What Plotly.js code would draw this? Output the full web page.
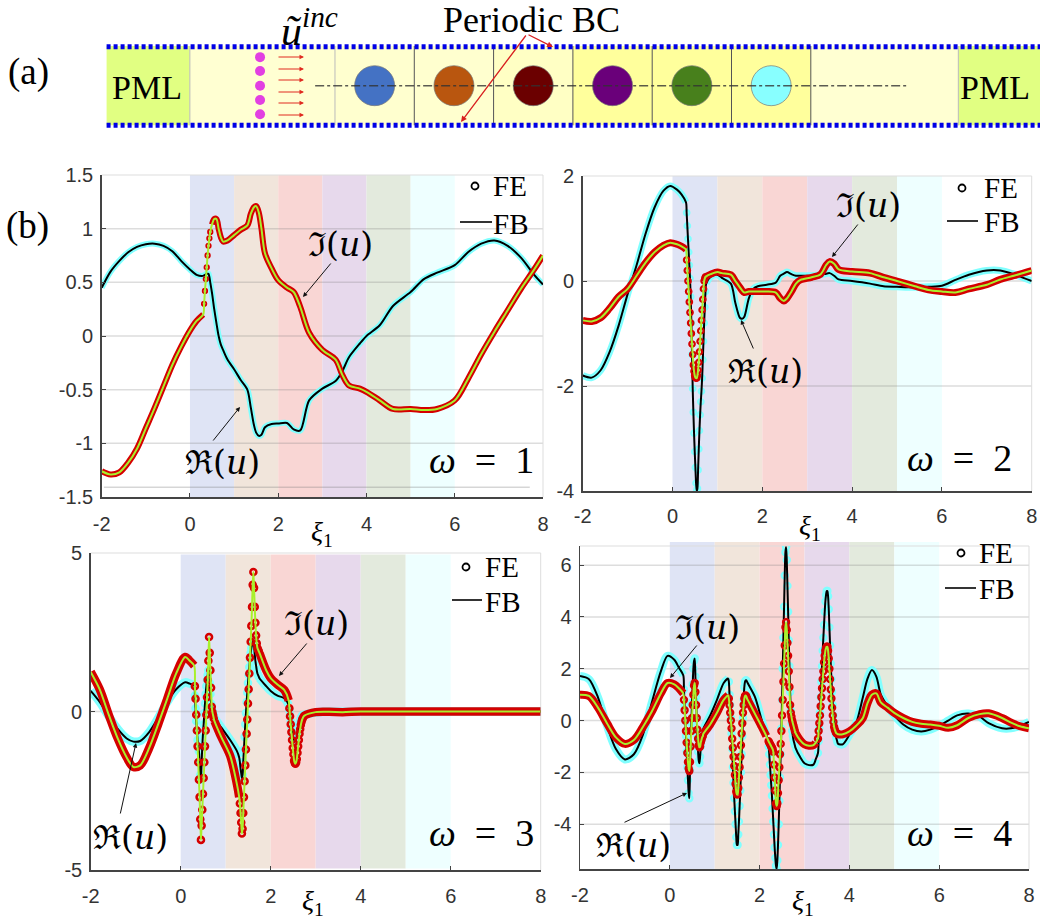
<!DOCTYPE html>
<html><head><meta charset="utf-8">
<script src="https://cdn.plot.ly/plotly-3.0.1.min.js"></script>
<style>html,body{margin:0;padding:0;background:#fff}</style></head>
<body><div id="chart" style="width:1040px;height:922px"></div>
<script>
// ---------- panel data (omega = 1 .. 4) ----------
const xi1=[-2,-1.8,-1.6,-1.4,-1.2,-1,-.8,-.6,-.4,-.2,0,.15,.3,
.32,.34,.36,.38,.4,.42,.44,.46,.5,.55,.6,.65,.7,.75,.85,1,1.15,1.3,1.38,1.45,1.5,1.56,1.62,1.7,1.85,2,2.2,2.35,2.5,2.7,3,3.3,3.45,3.6,3.85,4,4.3,4.6,5,5.3,5.6,6,6.3,6.6,6.9,7.2,7.5,7.8,8];
const re1=[.45,.6,.7,.78,.83,.855,.86,.84,.79,.7,.62,.57,.56,
.565,.57,.575,.58,.58,.58,.55,.5,.4,.25,.12,0,-.08,-.13,-.22,-.31,-.41,-.5,-.67,-.83,-.9,-.93,-.92,-.85,-.82,-.815,-.81,-.87,-.88,-.6,-.49,-.42,-.33,-.2,-.07,0,.1,.28,.41,.53,.59,.66,.78,.86,.89,.84,.73,.57,.48];
const im1=[-1.26,-1.29,-1.27,-1.18,-1.05,-.86,-.67,-.47,-.27,-.1,.05,.14,.2,
.3,.42,.53,.64,.75,.84,.91,.97,1.04,1.09,1.09,1,.92,.88,.89,.94,.99,1.03,1.14,1.2,1.21,1.15,1,.77,.63,.52,.45,.41,.27,.03,-.13,-.22,-.36,-.46,-.49,-.52,-.6,-.68,-.68,-.69,-.68,-.6,-.4,-.17,.04,.24,.44,.62,.75];

const xi2=[-2,-1.8,-1.6,-1.4,-1.2,-1,-.8,-.6,-.4,-.2,-.05,.1,.2,.3,
.315,.33,.345,.36,.375,.39,.405,.42,.435,.45,.465,.48,.495,.51,.525,.54,.555,.57,.585,.6,.615,.63,.645,.66,.675,.69,.705,.72,.735,.75,
.85,1,1.1,1.3,1.4,1.5,1.55,1.6,1.7,1.8,1.9,2.1,2.3,2.4,2.48,2.55,2.65,2.75,2.85,3.1,3.3,3.42,3.5,3.6,3.7,4,4.4,4.7,5,5.4,5.7,6,6.3,6.6,7,7.3,7.6,8];
const re2=[-1.8,-1.84,-1.7,-1.35,-.85,-.25,.3,.9,1.4,1.72,1.81,1.74,1.65,1.5,
1.3,1.05,.8,.55,.3,.05,-.3,-.8,-1.4,-2.05,-2.5,-2.9,-3.25,-3.55,-3.85,-4,-3.95,-3.6,-3.2,-2.85,-2.55,-2.3,-2.1,-1.85,-1.5,-1.15,-.8,-.5,-.2,-.05,
.08,.12,.06,-.05,-.42,-.7,-.72,-.68,-.33,-.15,-.1,-.07,-.03,.1,.14,.17,.13,.1,.1,.1,.12,.14,.15,.1,.03,0,-.05,-.1,-.11,-.12,-.11,-.09,.02,.12,.2,.2,.13,0];
const im2=[-.75,-.77,-.7,-.52,-.3,-.15,.1,.35,.55,.68,.73,.7,.66,.6,
.4,.2,0,-.2,-.4,-.6,-.8,-1,-1.2,-1.4,-1.6,-1.72,-1.8,-1.84,-1.85,-1.85,-1.8,-1.7,-1.55,-1.35,-1.15,-.95,-.75,-.55,-.35,-.15,0,.05,.08,.09,
.13,.17,.15,.12,0,-.12,-.18,-.22,-.2,-.2,-.2,-.2,-.22,-.33,-.38,-.33,-.2,-.05,.02,.07,.13,.3,.37,.33,.22,.18,.15,.07,0,-.1,-.17,-.2,-.22,-.15,-.07,.03,.1,.2];

const xi3=[-2,-1.8,-1.6,-1.4,-1.2,-1.05,-.9,-.7,-.5,-.3,-.1,.1,.2,.3,
.315,.33,.345,.36,.375,.39,.405,.42,.435,.45,.465,.48,.495,.51,.525,.54,.555,.57,.585,.6,.615,.63,.645,.66,.675,.69,.705,.72,.735,.75,
.9,1.1,1.25,1.3,
1.315,1.33,1.345,1.36,1.375,1.39,1.405,1.42,1.435,1.45,1.465,1.48,1.495,1.51,1.525,1.54,1.555,1.57,1.585,1.6,1.615,1.63,1.645,1.66,1.675,1.69,1.705,1.72,1.735,1.75,
1.9,2,2.15,2.3,
2.4,2.415,2.43,2.445,2.46,2.475,2.49,2.505,2.52,2.535,2.55,2.565,2.58,2.595,2.61,2.625,2.64,2.655,2.67,2.685,2.7,2.715,2.73,2.75,
3,3.3,3.6,4,5,6,7,8];
const re3=[.65,.3,-.15,-.55,-.85,-.95,-.93,-.65,-.2,.3,.7,.92,.88,.82,
.5,.1,-.3,-.6,-.9,-1.1,-1.25,-1.6,-2,-2.15,-1.6,-1.1,-.7,-.4,-.05,.25,.55,.8,1,1.15,1.3,1.3,.9,.55,.25,.1,.02,-.05,-.1,-.2,
-.5,-.9,-1.25,-1.45,
-1.6,-1.8,-1.95,-2.1,-2,-1.6,-1.2,-.8,-.4,-.05,.3,.6,.9,1.15,1.4,1.65,1.85,2,2.1,2.2,2.25,2.1,1.8,1.6,1.45,1.3,1.2,1.15,1.1,1.05,
.8,.65,.5,.42,
.2,.05,-.1,-.3,-.5,-.65,-.78,-.85,-.9,-.92,-.9,-.85,-.78,-.68,-.55,-.45,-.35,-.27,-.2,-.16,-.13,-.12,-.11,-.1,
-.03,0,-.01,0,0,0,0,0];
const im3=[1.25,.7,-.1,-.85,-1.45,-1.75,-1.7,-1.15,-.4,.4,1.2,1.72,1.6,1.45,
.8,.4,-.1,-.6,-1.1,-1.6,-2.15,-2.7,-3.4,-4.05,-3.6,-3.1,-2.6,-2.1,-1.6,-1.1,-.6,-.1,.45,1,1.6,2.35,1.85,1.3,.75,.15,-.02,-.12,-.22,-.3,
-.8,-1.4,-2.3,-2.7,
-2.9,-3.2,-3.5,-3.85,-3.7,-3.2,-2.7,-2.2,-1.7,-1.2,-.7,-.25,.25,.7,1.2,1.7,2.2,2.7,3.3,4,4.4,3.9,3.3,2.8,2.4,2.15,2,1.95,1.9,1.85,
1.3,1.05,.85,.68,
.35,.1,-.15,-.4,-.65,-.9,-1.15,-1.35,-1.55,-1.62,-1.65,-1.6,-1.5,-1.3,-1.1,-.9,-.7,-.55,-.42,-.32,-.25,-.2,-.16,-.13,
-.02,-.01,-.02,0,0,0,0,0];

const xi4=[-2,-1.8,-1.6,-1.4,-1.2,-1,-.8,-.6,-.4,-.2,-.05,.1,.2,.3,
.315,.33,.345,.36,.375,.39,.405,.42,.435,.45,.465,.48,.495,.51,.525,.54,.555,.57,.585,.6,.615,.63,.645,.66,.675,.69,.705,.72,.735,.75,
.9,1.05,1.2,1.3,
1.315,1.33,1.345,1.36,1.375,1.39,1.405,1.42,1.435,1.45,1.465,1.48,1.495,1.51,1.525,1.54,1.555,1.57,1.585,1.6,1.615,1.63,1.645,1.66,1.675,1.69,1.705,1.72,1.735,1.75,
1.9,2.05,2.15,
2.2,2.215,2.23,2.245,2.26,2.275,2.29,2.305,2.32,2.335,2.35,2.365,2.38,2.395,2.41,2.425,2.44,2.455,2.47,2.485,2.5,2.515,2.53,2.545,2.56,2.575,2.59,2.605,2.62,2.635,2.65,2.665,2.68,2.695,2.71,2.725,2.74,2.755,2.77,2.785,2.8,
2.9,3,3.1,3.2,3.25,
3.3,3.315,3.33,3.345,3.36,3.375,3.39,3.405,3.42,3.435,3.45,3.465,3.48,3.495,3.51,3.525,3.54,3.555,3.57,3.585,3.6,3.615,3.63,3.645,3.66,3.675,3.69,3.705,3.72,3.735,3.75,
3.85,4,4.15,4.3,4.4,4.5,4.6,4.7,4.85,5,5.2,5.4,5.6,5.8,6,6.2,6.4,6.65,6.9,7.1,7.4,7.6,7.8,8];
const re4=[1.72,1.6,.9,-.2,-1.1,-1.5,-1.3,-.55,.7,1.9,2.5,2.35,2.05,1.75,
1.2,.6,0,-.6,-1.2,-1.8,-2.3,-2.8,-3,-1.9,-1,-.1,.7,1.4,2,2.3,2.4,1.7,.9,.1,-.6,-1.2,-1.55,-1.65,-1.4,-1,-.75,-.6,-.45,-.3,
.2,.8,1.45,1.62,
1.5,1,.6,.1,-.5,-1.1,-1.8,-2.4,-3,-3.5,-4,-4.5,-4.8,-4.8,-4.4,-3.9,-3.3,-2.7,-2,-1.3,-.6,.1,.8,1.3,1.5,1.55,1.55,1.5,1.45,1.4,
.9,0,-.55,
-1,-1.3,-1.7,-2.1,-2.5,-2.9,-3.4,-3.9,-4.4,-4.9,-5.3,-5.6,-5.73,-5.4,-4.8,-4,-3.1,-2.2,-1.3,-.3,.8,2,3.2,4.4,5.6,6.5,6.7,6.2,5.2,4.2,3.1,2.1,1.1,.4,-.1,-.4,-.6,-.75,-.85,-.95,-1.05,
-1.4,-1.65,-1.72,-1.7,-1.5,
-1.25,-.8,-.3,.3,.9,1.5,2.1,2.7,3.2,3.7,4.2,4.6,4.85,5,5,4.8,4.3,3.6,2.9,2.2,1.6,1.1,.6,.2,-.1,-.35,-.5,-.65,-.75,-.85,-.9,
-.92,-.55,-.1,.9,1.6,1.95,1.7,1,.55,.2,-.15,-.35,-.42,-.35,-.2,0,.2,.27,.15,-.1,-.3,-.3,-.2,-.05];
const im4=[1,.95,.5,-.1,-.65,-.9,-.75,-.25,.35,1.05,1.45,1.4,1.25,1.05,
.8,.4,0,-.4,-.85,-1.25,-1.6,-1.85,-1.95,-1.6,-1,-.4,.1,.6,1,1.35,1.45,1.1,.6,.1,-.35,-.7,-.95,-1.03,-1,-.85,-.75,-.65,-.6,-.5,
-.15,.3,.8,.97,
.85,.6,.3,0,-.3,-.7,-1.05,-1.4,-1.75,-2.1,-2.45,-2.75,-2.85,-2.85,-2.6,-2.2,-1.8,-1.4,-.95,-.5,-.1,.3,.6,.85,.95,.97,.93,.85,.8,.75,
.25,-.25,-.6,
-.8,-.85,-.9,-.95,-1,-1.05,-1.1,-1.2,-1.7,-2.2,-2.7,-3.2,-3.3,-3.2,-2.8,-2.3,-1.8,-1.3,-.9,-.4,.2,.8,1.5,2.2,2.9,3.6,3.8,3.5,3,2.5,1.9,1.3,.6,.3,.15,0,-.1,-.2,-.3,-.4,-.48,
-.75,-.92,-.97,-.95,-.85,
-.7,-.4,-.1,.2,.55,.9,1.25,1.6,1.9,2.25,2.5,2.7,2.8,2.85,2.85,2.7,2.4,2,1.6,1.2,.85,.5,.2,-.05,-.25,-.35,-.42,-.48,-.5,-.52,-.53,
-.53,-.42,-.2,.1,.65,1,1.05,.7,.5,.3,.1,-.05,-.12,-.15,-.2,-.28,-.18,.1,.25,.28,.1,-.08,-.22,-.3];

// ---------- ticks and labels ----------
const xTicks=[-2,0,2,4,6,8];
const yTicks1=[-1.5,-1,-.5,0,.5,1,1.5], yText1=['-1.5','-1','-0.5','0','0.5','1','1.5'], yGrid1=[-1,-.5,0,.5,1];
const yTicks2=[-4,-2,0,2], yGrid2=[-2,0];
const yTicks3=[-5,0,5], yGrid3=[0];
const yTicks4=[-4,-2,0,2,4,6], yGrid4=[-4,-2,0,2,4,6];

// ---------- scatterer cells ----------
const cellEdges=[0,1,2,3,4,5,6];
const cellShades=['#DFE4F5','#F1E5DB','#F9D6D4','#E7D9EC','#E3EADD','#EEFFFF'];
const scattererX=[.5,1.5,2.5,3.5,4.5,5.5];
const scattererColors=['#4472C4','#B9560F','#6B0000','#6A007A','#48801C','#88FFFF'];

// ---------- schematic regions ----------
const regionEdges=[-2.88,-1.83,0,1,2,3,4,5,6,7.86,8.9];
const regionFills=['#E1FF82','#FFFFD2','#FFFFCF','#FFFFCF','#FFFFC4','#FFFF9C','#FFFF9C','#FFFF9C','#FFFFD2','#E1FF82'];
const sourceX=[-.945,-.945,-.945,-.945,-.945];
const sourceY=[.36,.185,0,-.18,-.36];
const guideX=[-.25,7.22], boundaryX=[-2.88,8.9];

const CYAN='#80FFFF',RED='#D50000',LIME='#A8F02C',BLACK='#000';
const W=1040,H=922;
const fx=p=>p/W, fy=p=>1-p/H;

const panels=[
 {n:'',xi:xi1,re:re1,im:im1,box:[101.7,543,175,497],yr:[-1.5,1.5],tv:yTicks1,tt:yText1,grid:yGrid1,off:8,
  sRe:[],sIm:[[.31,.46]],band:6,ring:4.5,rw:1.8,shade:[0,1]},
 {n:'2',xi:xi2,re:re2,im:im2,box:[582.7,1031.7,176,491],yr:[-4,2],tv:yTicks2,tt:yTicks2.map(String),grid:yGrid2,off:6,
  sRe:[[.31,.74]],sIm:[[.31,.74]],band:7,ring:5.5,rw:2.2,shade:[0,1]},
 {n:'3',xi:xi3,re:re3,im:im3,box:[90.7,540.7,553,870],yr:[-5,5],tv:yTicks3,tt:yTicks3.map(String),grid:yGrid3,off:7,
  sRe:[[.31,.74],[1.31,1.74],[2.41,2.72]],sIm:[[.31,.74],[1.31,1.74],[2.41,2.72]],band:8.5,ring:6,rw:2.6,shade:[.005,.995]},
 {n:'4',xi:xi4,re:re4,im:im4,box:[580,1029,546,869],yr:[-5.73,6.74],tv:yTicks4,tt:yTicks4.map(String),grid:yGrid4,off:7,
  sRe:[[.31,.74],[1.31,1.74],[2.2,2.79],[3.3,3.74]],sIm:[[.31,.74],[1.31,1.74],[2.2,2.79],[3.3,3.74]],band:8,ring:6,rw:2.4,shade:[0,1.012]}
];

const traces=[],shapes=[],annotations=[];
const layout={width:W,height:H,margin:{l:0,r:0,t:0,b:0},paper_bgcolor:'#fff',plot_bgcolor:'rgba(0,0,0,0)',showlegend:false,
  font:{family:'Liberation Sans',color:'#333'}};

const inSteep=(x,ranges)=>ranges.some(r=>x>=r[0]&&x<=r[1]);
function curve(p,ys,steep,bandColor,lineColor,xa,ya){
  const band=ys.map((v,i)=>inSteep(p.xi[i],steep)?null:v);
  traces.push({x:p.xi,y:band,xaxis:xa,yaxis:ya,mode:'lines',line:{color:bandColor,width:p.band,shape:'spline',smoothing:1},hoverinfo:'skip'});
  traces.push({x:p.xi,y:ys.map((v,i)=>inSteep(p.xi[i],steep)?v:null),xaxis:xa,yaxis:ya,mode:'markers',marker:{symbol:'circle-open',color:bandColor,size:p.ring,line:{width:p.rw,color:bandColor}},hoverinfo:'skip'});
  traces.push({x:p.xi,y:ys,xaxis:xa,yaxis:ya,mode:'lines',line:{color:lineColor,width:2,shape:'spline',smoothing:.8},hoverinfo:'skip'});
}
panels.forEach(p=>{
  const xa='x'+p.n, ya='y'+p.n;
  const [x0,x1,y0,y1]=p.box;
  layout['xaxis'+p.n]={domain:[fx(x0),fx(x1)],range:[-2,8],anchor:ya,showgrid:false,zeroline:false,showline:true,linecolor:'#444',linewidth:1.5,
    tickmode:'array',tickvals:xTicks,ticktext:xTicks.map(String),ticks:'inside',ticklen:4,tickcolor:'#444',tickfont:{size:20,color:'#333'},ticklabelstandoff:p.off};
  layout['yaxis'+p.n]={domain:[fy(y1),fy(y0)],range:p.yr,anchor:xa,showgrid:false,zeroline:false,showline:true,linecolor:'#444',linewidth:1.5,
    tickmode:'array',tickvals:p.tv,ticktext:p.tt,ticks:'inside',ticklen:4,tickcolor:'#444',tickfont:{size:20,color:'#333'},ticklabelstandoff:3};
  cellShades.forEach((c,i)=>shapes.push({type:'rect',layer:'below',xref:xa,yref:ya+' domain',x0:cellEdges[i],x1:cellEdges[i+1],y0:p.shade[0],y1:p.shade[1],fillcolor:c,line:{width:0}}));
  p.grid.forEach(g=>shapes.push({type:'line',layer:'below',xref:xa+' domain',yref:ya,x0:0,x1:1,y0:g,y1:g,line:{color:'rgba(120,120,120,.25)',width:1.5}}));
  shapes.push({type:'line',layer:'below',xref:xa+' domain',yref:ya+' domain',x0:0,x1:1,y0:1,y1:1,line:{color:'#DDD',width:1}});
  shapes.push({type:'line',layer:'below',xref:xa+' domain',yref:ya+' domain',x0:1,x1:1,y0:0,y1:1,line:{color:'#DDD',width:1}});
  curve(p,p.re,p.sRe,CYAN,BLACK,xa,ya);
  curve(p,p.im,p.sIm,RED,LIME,xa,ya);
});
// stray guide line in the first panel
shapes.push({type:'line',layer:'below',xref:'x',yref:'y',x0:-1.95,x1:7.7,y0:-1.41,y1:-1.41,line:{color:'rgba(120,120,120,.3)',width:1.5}});

// ---------- text helpers ----------
const SERIF="'Liberation Serif','DejaVu Serif',serif";
function label(text,x,y,size,anchor){
  annotations.push({text,xref:'paper',yref:'paper',x:fx(x),y:fy(y),showarrow:false,xanchor:anchor||'center',yanchor:'middle',font:{family:SERIF,size,color:'#000'}});
}
function arrow(x0,y0,x1,y1,color,w,head){
  annotations.push({text:'',xref:'paper',yref:'paper',x:fx(x1),y:fy(y1),ax:x0-x1,ay:y0-y1,axref:'pixel',ayref:'pixel',showarrow:true,arrowhead:head==null?2:head,arrowsize:.9,arrowwidth:w||1,arrowcolor:color||'#111'});
}
const MATH="'DejaVu Serif','Liberation Serif',serif";
function math(text,x,y,size){annotations.push({text,xref:'paper',yref:'paper',x:fx(x),y:fy(y),showarrow:false,xanchor:'center',yanchor:'middle',font:{family:MATH,size,color:'#000'}});}

const RE='ℜ(<i>u</i>)', IM='ℑ(<i>u</i>)';
const legendKeys=[[475,186,460,492,222,510,224],[962,188,947,978,221,1001,222],[466,567,452,482,600,502,602],[961,553,945,976,588,996,589]];
legendKeys.forEach(k=>{
  label('FE',k[5],k[1],29);
  label('FB',k[5],k[6],29);
  shapes.push({type:'circle',xref:'paper',yref:'paper',x0:fx(k[0]-3.5),x1:fx(k[0]+3.5),y0:fy(k[1]+3.5),y1:fy(k[1]-3.5),line:{color:'#000',width:1.8},fillcolor:'rgba(0,0,0,0)'});
  shapes.push({type:'line',xref:'paper',yref:'paper',x0:fx(k[2]),x1:fx(k[3]),y0:fy(k[4]),y1:fy(k[4]),line:{color:'#000',width:1.6}});
});
[['1',481,460],['2',959,458],['3',481,833],['4',959,833]].forEach(o=>label('<i>ω</i>\u2002=\u2002'+o[0],o[1],o[2],38));
[[322,533],[810,527],[313,902],[803,902]].forEach(o=>label('<i>ξ</i><sub>1</sub>',o[0],o[1],28));

math(RE,222,463,33); math(IM,340,245,33);
arrow(212,442,240,407); arrow(332,262,303,297);
math(RE,765,372,33); math(IM,868,205,33);
arrow(754,350,741,320); arrow(859,223,832,257);
math(RE,130,837,33); math(IM,316,623,33);
arrow(120,815,136,743); arrow(308,642,279,676);
math(RE,633,845,33); math(IM,707,627,33);
arrow(623,823,687,793); arrow(698,644,670,678);

// ---------- schematic ----------
layout.xaxis5={domain:[0,1],range:[-4.224,8.89],anchor:'y5',visible:false,fixedrange:true};
layout.yaxis5={domain:[fy(150),1],range:[-.811,1.081],anchor:'x5',visible:false,fixedrange:true};
regionFills.forEach((c,i)=>shapes.push({type:'rect',layer:'below',xref:'x5',yref:'y5',x0:regionEdges[i],x1:regionEdges[i+1],y0:-.5,y1:.5,fillcolor:c,line:{width:0}}));
regionEdges.slice(1,-1).forEach(e=>shapes.push({type:'line',layer:'below',xref:'x5',yref:'y5',x0:e,x1:e,y0:-.5,y1:.5,line:{color:(e>=1&&e<=6)?'#555':'#BBB',width:1}}));
[.49,-.5].forEach(v=>traces.push({x:boundaryX,y:[v,v],xaxis:'x5',yaxis:'y5',mode:'lines',line:{color:'#0000E6',width:5,dash:'4px,3px'},hoverinfo:'skip'}));
traces.push({x:scattererX,y:scattererX.map(()=>0),xaxis:'x5',yaxis:'y5',mode:'markers',marker:{size:40,color:scattererColors,line:{color:'#777',width:.7}},hoverinfo:'skip'});
traces.push({x:guideX,y:[0,0],xaxis:'x5',yaxis:'y5',mode:'lines',line:{color:'rgba(50,50,50,.8)',width:1.6,dash:'dashdot'},hoverinfo:'skip'});
traces.push({x:sourceX,y:sourceY,xaxis:'x5',yaxis:'y5',mode:'markers',marker:{size:10,color:'#E23FE2'},hoverinfo:'skip'});
[57,69,80,92,103,115].forEach(y=>arrow(277,y,304,y,'#E02A20',1,2));
label('(a)',28,72,37); label('(b)',27,226,37);
label('PML',147,88,34); label('PML',995,88,34);
label('Periodic BC',531,20,36);
label('<i>ũ</i><sup><i>inc</i></sup>',309,27,42);
arrow(527,34,553,47,'#D82020',1.3,2); arrow(527,34,461,122,'#D82020',1.3,2);

layout.shapes=shapes; layout.annotations=annotations;
Plotly.newPlot('chart',traces,layout,{staticPlot:true,displayModeBar:false});
</script></body></html>
